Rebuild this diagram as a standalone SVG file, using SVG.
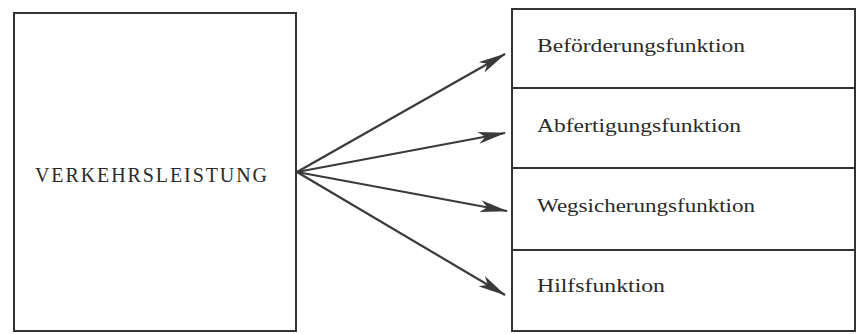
<svg xmlns="http://www.w3.org/2000/svg" width="857" height="334" viewBox="0 0 857 334">
  <style>
    .box { fill: #ffffff; stroke: #333333; stroke-width: 2; }
    .div { stroke: #333333; stroke-width: 2; }
    .main { font-family: "Liberation Serif", "Times New Roman", serif; font-size: 20px; fill: #2a2a2a; }
    .lbl { font-family: "Liberation Serif", "Times New Roman", serif; font-size: 18px; fill: #2a2a2a; }
    .arrow { stroke: #3a3a3a; stroke-width: 2.2; fill: none; marker-end: url(#head); }
  </style>
  <defs>
    <marker id="head" viewBox="0 0 28 12" refX="27" refY="6" markerWidth="28" markerHeight="12" markerUnits="userSpaceOnUse" orient="auto">
      <path d="M0,0 L28,6 L0,12 L7,6 Z" fill="#3a3a3a"/>
    </marker>
  </defs>
  <rect width="857" height="334" fill="#ffffff"/>

  <g id="verkehrsleistung">
    <rect class="box" x="14" y="13" width="282" height="318"/>
    <text class="main" x="35" y="182" textLength="232" lengthAdjust="spacing">VERKEHRSLEISTUNG</text>
  </g>

  <g id="funktionen">
    <rect class="box" x="512" y="9" width="343" height="322"/>
  </g>
  <g id="befoerderung">
    <text class="lbl" x="537" y="52" textLength="208" lengthAdjust="spacingAndGlyphs">Beförderungsfunktion</text>
  </g>
  <g id="abfertigung">
    <line class="div" x1="512" y1="88" x2="855" y2="88"/>
    <text class="lbl" x="537" y="132" textLength="204" lengthAdjust="spacingAndGlyphs">Abfertigungsfunktion</text>
  </g>
  <g id="wegsicherung">
    <line class="div" x1="512" y1="168" x2="855" y2="168"/>
    <text class="lbl" x="537" y="212" textLength="218" lengthAdjust="spacingAndGlyphs">Wegsicherungsfunktion</text>
  </g>
  <g id="hilfs">
    <line class="div" x1="512" y1="250" x2="855" y2="250"/>
    <text class="lbl" x="537" y="292" textLength="128" lengthAdjust="spacingAndGlyphs">Hilfsfunktion</text>
  </g>

  <g id="connectors">
    <line class="arrow" x1="297" y1="172" x2="505" y2="54"/>
    <line class="arrow" x1="297" y1="172" x2="505" y2="133"/>
    <line class="arrow" x1="297" y1="172" x2="507" y2="211"/>
    <line class="arrow" x1="297" y1="172" x2="505" y2="295"/>
  </g>
</svg>
